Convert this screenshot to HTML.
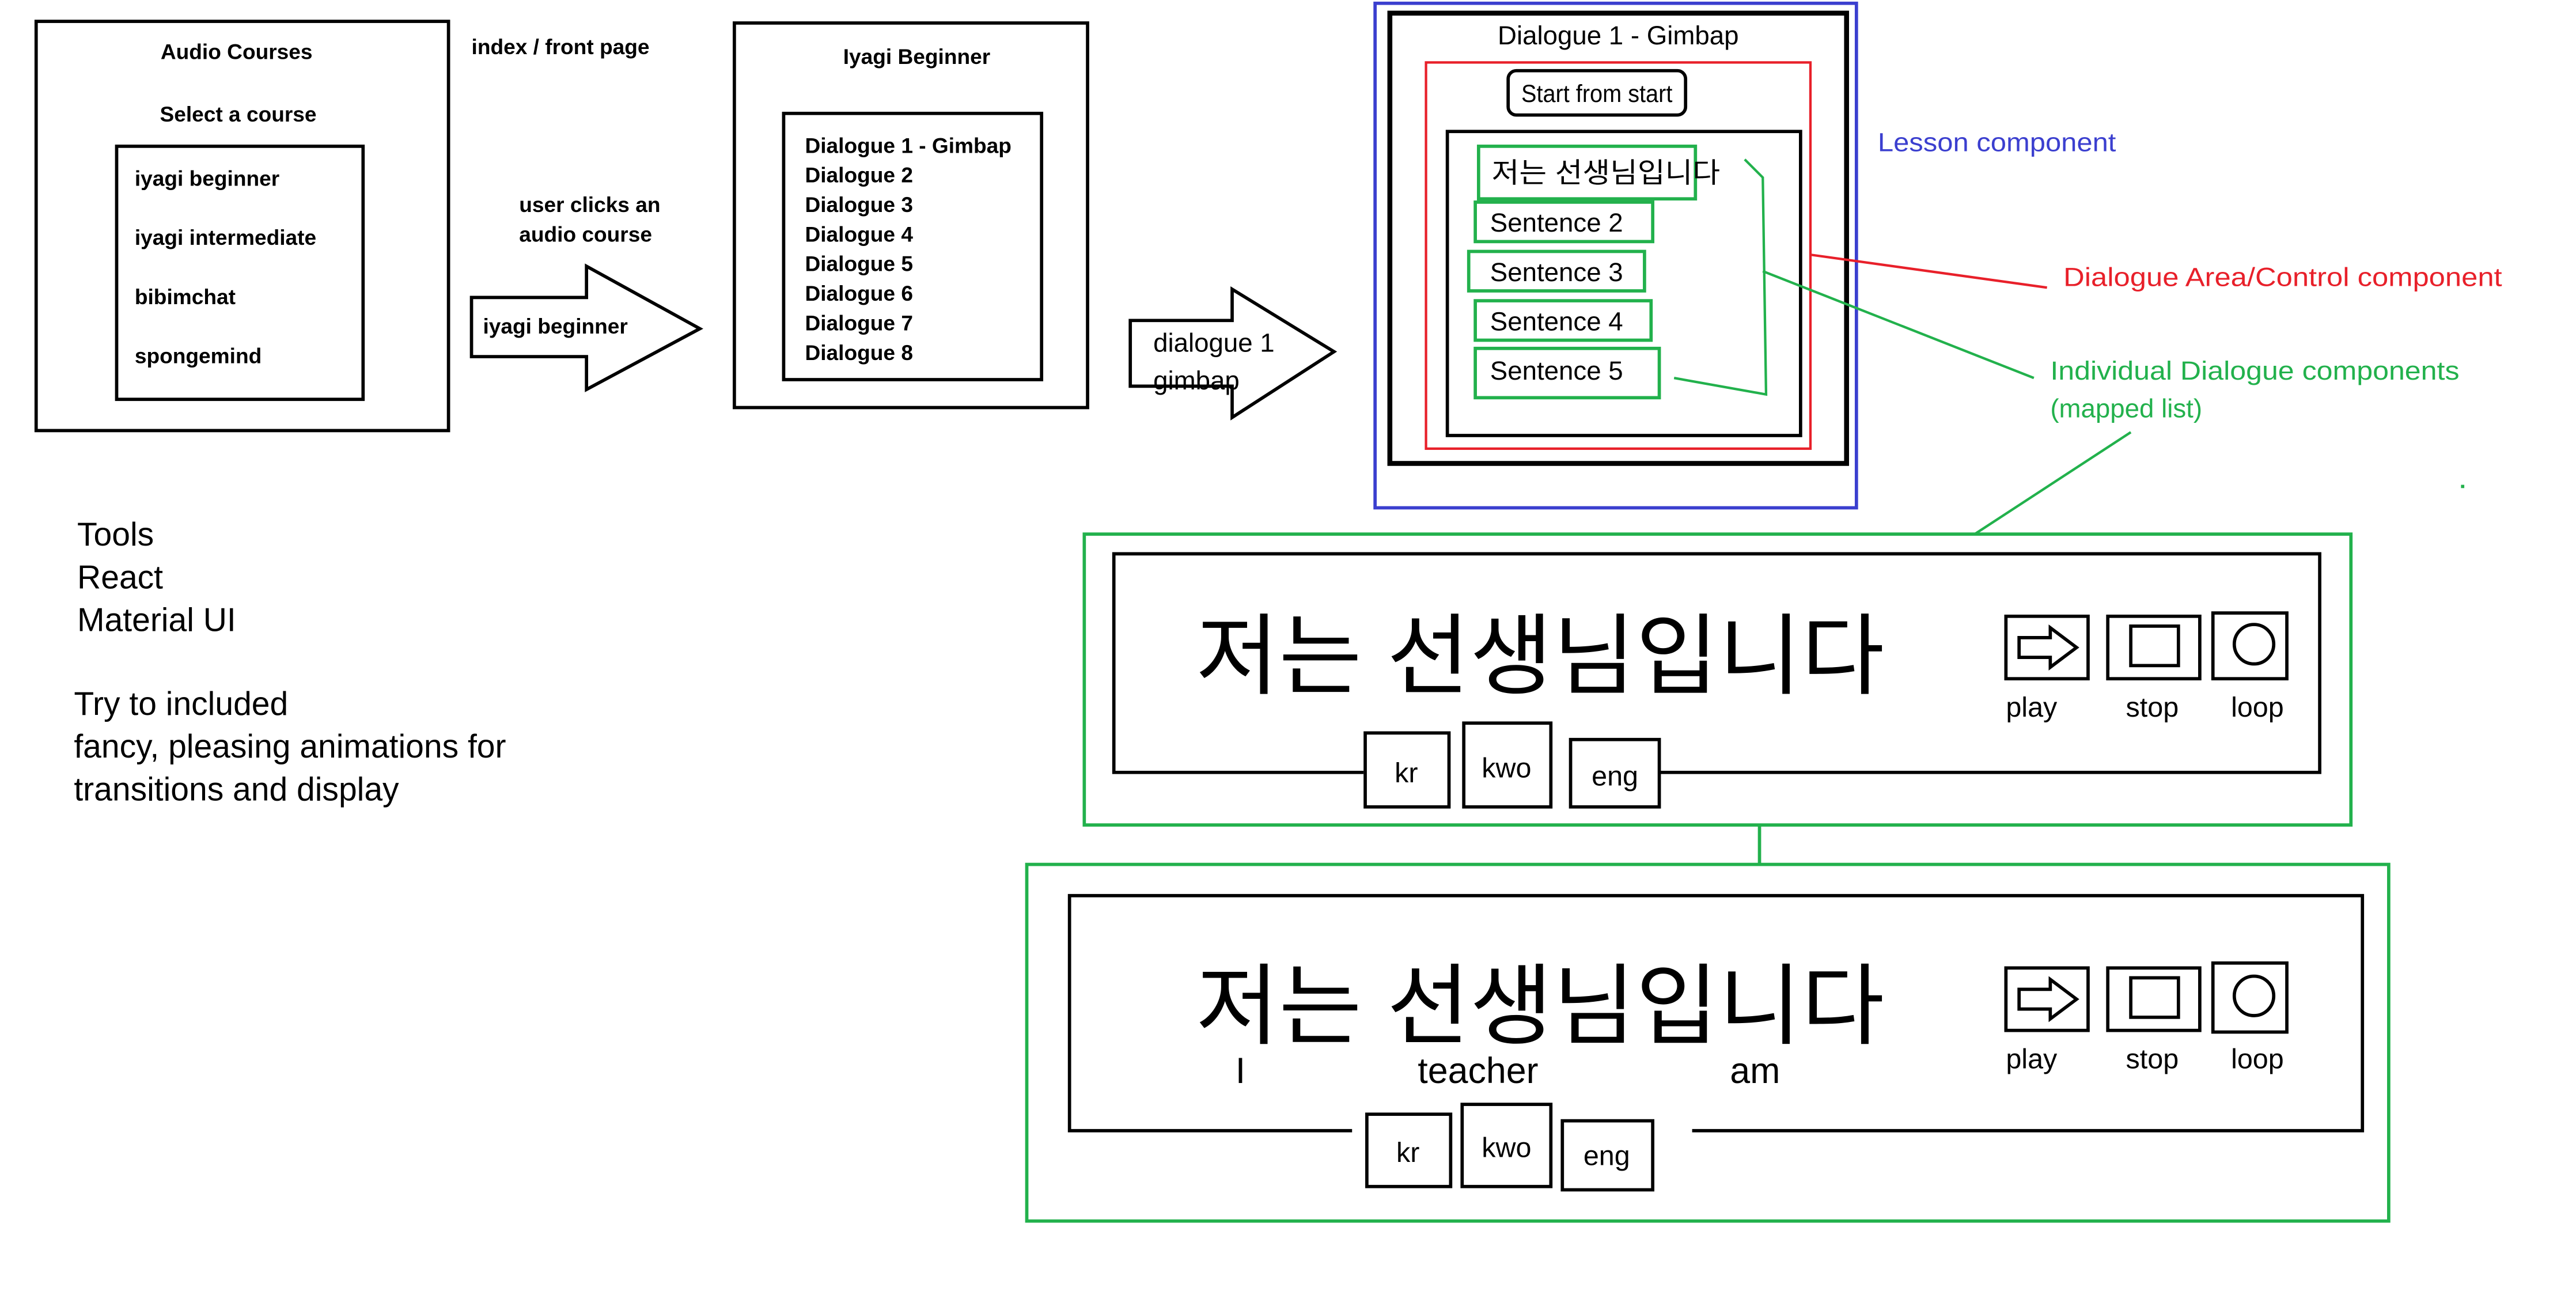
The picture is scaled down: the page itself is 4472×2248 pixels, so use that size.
<!DOCTYPE html>
<html><head><meta charset="utf-8"><style>html,body{margin:0;padding:0;background:#fff}svg{display:block}</style></head>
<body>
<svg width="4472" height="2248" viewBox="0 0 1568 788" preserveAspectRatio="none" xmlns="http://www.w3.org/2000/svg" font-family="Liberation Sans, Noto Sans CJK KR, sans-serif">
<g fill="none" stroke="#000" stroke-width="2">
<rect x="22" y="13" width="251" height="249"/>
<rect x="71" y="89" width="150" height="154"/>
<polygon points="287,181 357,181 357,162 426,200 357,237 357,217 287,217"/>
<rect x="447" y="14" width="215" height="234"/>
<rect x="477" y="69" width="157" height="162"/>
<polygon points="688,195 750,195 750,176 812,214 750,254 750,235 688,235"/>
</g>
<g font-weight="bold" font-size="13" fill="#000">
<text x="144" y="36" text-anchor="middle">Audio Courses</text>
<text x="145" y="74" text-anchor="middle">Select a course</text>
<text x="82" y="113">iyagi beginner</text>
<text x="82" y="149">iyagi intermediate</text>
<text x="82" y="185">bibimchat</text>
<text x="82" y="221">spongemind</text>
<text x="287" y="33">index / front page</text>
<text x="316" y="129">user clicks an</text>
<text x="316" y="147">audio course</text>
<text x="294" y="203">iyagi beginner</text>
<text x="558" y="39" text-anchor="middle">Iyagi Beginner</text>
<text x="490" y="93">Dialogue 1 - Gimbap</text>
<text x="490" y="111">Dialogue 2</text>
<text x="490" y="129">Dialogue 3</text>
<text x="490" y="147">Dialogue 4</text>
<text x="490" y="165">Dialogue 5</text>
<text x="490" y="183">Dialogue 6</text>
<text x="490" y="201">Dialogue 7</text>
<text x="490" y="219">Dialogue 8</text>
</g>
<text x="702" y="214" font-size="16">dialogue 1</text>
<text x="702" y="237" font-size="16">gimbap</text>

<rect x="837" y="2" width="293" height="307" fill="none" stroke="#3b3fcf" stroke-width="2"/>
<rect x="846" y="8" width="278" height="274" fill="none" stroke="#000" stroke-width="3"/>
<text x="985" y="27" font-size="16" text-anchor="middle">Dialogue 1 - Gimbap</text>
<rect x="868" y="38" width="234" height="235" fill="none" stroke="#e8202a" stroke-width="1.5"/>
<rect x="918" y="43" width="108" height="27" rx="5" fill="none" stroke="#000" stroke-width="2"/>
<text x="926" y="62" font-size="15" textLength="92" lengthAdjust="spacingAndGlyphs">Start from start</text>
<rect x="881" y="80" width="215" height="185" fill="none" stroke="#000" stroke-width="2"/>
<g fill="none" stroke="#22b14c" stroke-width="2">
<rect x="900" y="89" width="132" height="32"/>
<rect x="898" y="123" width="108" height="24"/>
<rect x="894" y="153" width="107" height="24"/>
<rect x="898" y="183" width="107" height="24"/>
<rect x="898" y="212" width="112" height="30"/>
<polyline points="1062,97 1073,108 1075,240 1019,230" stroke-width="1.5"/>
<line x1="1073" y1="165" x2="1238" y2="230" stroke-width="1.5"/>
<line x1="1297" y1="263" x2="1202" y2="325" stroke-width="1.5"/>
<rect x="660" y="325" width="771" height="177"/>
<line x1="1071" y1="502" x2="1071" y2="526"/>
<rect x="625" y="526" width="829" height="217"/>
</g>
<line x1="1102" y1="155" x2="1246" y2="175" stroke="#e8202a" stroke-width="1.5"/>
<rect x="1498" y="295" width="2" height="2" fill="#22b14c"/>
<g font-size="16" fill="#000">
<text x="908" y="111" font-size="17" textLength="139" lengthAdjust="spacingAndGlyphs">저는 선생님입니다</text>
<text x="907" y="141">Sentence 2</text>
<text x="907" y="171">Sentence 3</text>
<text x="907" y="201">Sentence 4</text>
<text x="907" y="231">Sentence 5</text>
</g>
<text x="1143" y="92" font-size="16" fill="#3b3fcf" textLength="145" lengthAdjust="spacingAndGlyphs">Lesson component</text>
<text x="1256" y="174" font-size="16" fill="#e8202a" textLength="267" lengthAdjust="spacingAndGlyphs">Dialogue Area/Control component</text>
<text x="1248" y="231" font-size="16" fill="#22b14c" textLength="249" lengthAdjust="spacingAndGlyphs">Individual Dialogue components</text>
<text x="1248" y="254" font-size="16" fill="#22b14c">(mapped list)</text>

<g font-size="20" fill="#000">
<text x="47" y="332">Tools</text>
<text x="47" y="358">React</text>
<text x="47" y="384">Material UI</text>
<text x="45" y="435">Try to included</text>
<text x="45" y="461">fancy, pleasing animations for</text>
<text x="45" y="487">transitions and display</text>
</g>

<g fill="none" stroke="#000" stroke-width="2">
<polyline points="830,470 678,470 678,337 1412,337 1412,470 1010,470"/>
<rect x="831" y="446" width="51" height="45" fill="#fff"/>
<rect x="891" y="440" width="53" height="51" fill="#fff"/>
<rect x="956" y="450" width="54" height="41" fill="#fff"/>
<rect x="1221" y="375" width="50" height="38"/>
<polygon points="1229,388 1248,388 1248,382 1264,394 1248,406 1248,400 1229,400"/>
<rect x="1283" y="375" width="56" height="38"/>
<rect x="1297" y="381" width="29" height="24"/>
<rect x="1347" y="373" width="45" height="40"/>
<circle cx="1372" cy="392" r="12"/>
</g>
<text x="728" y="418" font-size="54" fill="#000" textLength="419" lengthAdjust="spacingAndGlyphs">저는 선생님입니다</text>
<g font-size="17" fill="#000">
<text x="856" y="476" text-anchor="middle">kr</text>
<text x="917" y="473" text-anchor="middle">kwo</text>
<text x="983" y="478" text-anchor="middle">eng</text>
<text x="1221" y="436">play</text>
<text x="1294" y="436">stop</text>
<text x="1358" y="436">loop</text>
</g>

<g fill="none" stroke="#000" stroke-width="2">
<polyline points="823,688 651,688 651,545 1438,545 1438,688 1030,688"/>
<rect x="832" y="678" width="51" height="44" fill="#fff"/>
<rect x="890" y="672" width="54" height="50" fill="#fff"/>
<rect x="951" y="682" width="55" height="42" fill="#fff"/>
<rect x="1221" y="589" width="50" height="38"/>
<polygon points="1229,602 1248,602 1248,596 1264,608 1248,620 1248,614 1229,614"/>
<rect x="1283" y="589" width="56" height="38"/>
<rect x="1297" y="595" width="29" height="24"/>
<rect x="1347" y="586" width="45" height="42"/>
<circle cx="1372" cy="606" r="12"/>
</g>
<text x="728" y="631" font-size="54" fill="#000" textLength="419" lengthAdjust="spacingAndGlyphs">저는 선생님입니다</text>
<g font-size="22" fill="#000">
<text x="752" y="659">I</text>
<text x="863" y="659">teacher</text>
<text x="1053" y="659">am</text>
</g>
<g font-size="17" fill="#000">
<text x="857" y="707" text-anchor="middle">kr</text>
<text x="917" y="704" text-anchor="middle">kwo</text>
<text x="978" y="709" text-anchor="middle">eng</text>
<text x="1221" y="650">play</text>
<text x="1294" y="650">stop</text>
<text x="1358" y="650">loop</text>
</g>
</svg>
</body></html>
